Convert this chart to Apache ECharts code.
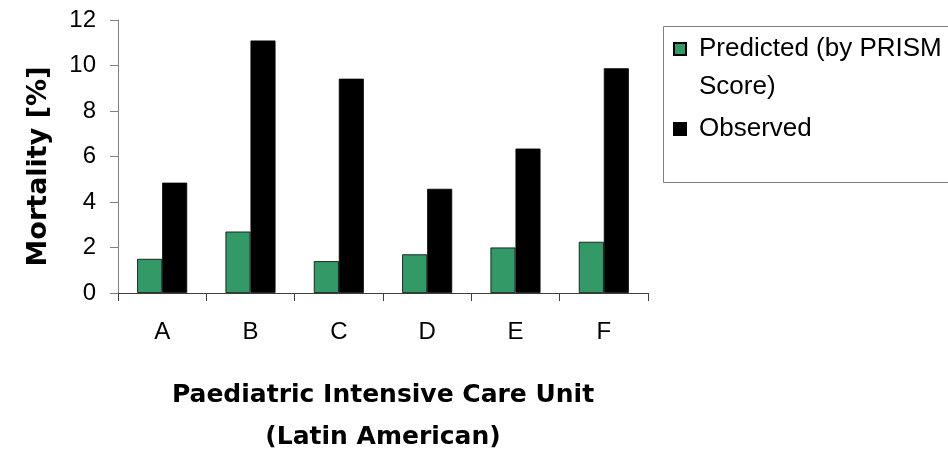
<!DOCTYPE html>
<html>
<head>
<meta charset="utf-8">
<script src="https://cdn.jsdelivr.net/npm/echarts@6/dist/echarts.min.js"></script>
<style>html,body{margin:0;padding:0;background:#fff;}#c{width:948px;height:450px;}</style>
</head>
<body>
<div id="c"></div>
<script>
const categories = ['A', 'B', 'C', 'D', 'E', 'F'];
const predicted = [1.5, 2.7, 1.4, 1.7, 2.0, 2.25];
const observed = [4.85, 11.1, 9.42, 4.58, 6.35, 9.88];
const seriesNames = ['Predicted (by PRISM\nScore)', 'Observed'];
const yTicks = { min: 0, max: 12, interval: 2 };
const xTitle = 'Paediatric Intensive Care Unit\n(Latin American)';
const yTitle = 'Mortality [%]';

const FONT = '"Liberation Sans", Arial, sans-serif';
const BOLDFONT = '"DejaVu Sans", "Liberation Sans", sans-serif';
const chart = echarts.init(document.getElementById('c'), null, { renderer: 'canvas' });
chart.setOption({
  animation: false,
  backgroundColor: '#ffffff',
  grid: { left: 118, right: 300, top: 20, bottom: 157, containLabel: false, outerBoundsMode: 'none' },
  graphic: [{
    type: 'rect', left: 663, top: 26, z: 0,
    shape: { width: 300, height: 156 },
    style: { fill: '#ffffff', stroke: '#808080', lineWidth: 1 }
  }],
  legend: {
    orient: 'vertical', left: 673, top: -8, padding: 0, itemGap: 4,
    itemWidth: 12, itemHeight: 12, icon: 'rect', z: 5,
    textStyle: { fontFamily: FONT, fontSize: 26, color: '#000', lineHeight: 38, padding: [0, 0, 0, 8] },
    formatter: function (name) { return name === seriesNames[0] ? ' \n' + name : name; },
    data: seriesNames
  },
  xAxis: {
    type: 'category', data: categories,
    axisLine: { lineStyle: { color: '#404040', width: 1 } },
    axisTick: { show: true, length: 8, lineStyle: { color: '#404040' } },
    axisLabel: { fontFamily: FONT, fontSize: 24, color: '#000', margin: 27 },
    name: xTitle, nameLocation: 'middle', nameGap: 81,
    nameTextStyle: { fontFamily: BOLDFONT, fontSize: 25, fontWeight: 'bold', color: '#000', lineHeight: 42 }
  },
  yAxis: {
    type: 'value', min: yTicks.min, max: yTicks.max, interval: yTicks.interval,
    axisLine: { show: true, lineStyle: { color: '#808080', width: 1 } },
    axisTick: { show: true, length: 8, lineStyle: { color: '#808080' } },
    splitLine: { show: false },
    axisLabel: { fontFamily: FONT, fontSize: 24, color: '#000', margin: 22 },
    name: yTitle, nameLocation: 'middle', nameGap: 66,
    nameTextStyle: { fontFamily: BOLDFONT, fontSize: 27, fontWeight: 'bold', color: '#000', padding: [0, 20, 0, 0] }
  },
  series: [
    { name: seriesNames[0], type: 'bar', data: predicted, barWidth: 25, barGap: '0%',
      itemStyle: { color: '#339966', borderColor: '#000', borderWidth: 0.8 } },
    { name: seriesNames[1], type: 'bar', data: observed, barWidth: 25, barGap: '0%',
      itemStyle: { color: '#000000', borderColor: '#000', borderWidth: 0.8 } }
  ]
});
</script>
</body>
</html>
